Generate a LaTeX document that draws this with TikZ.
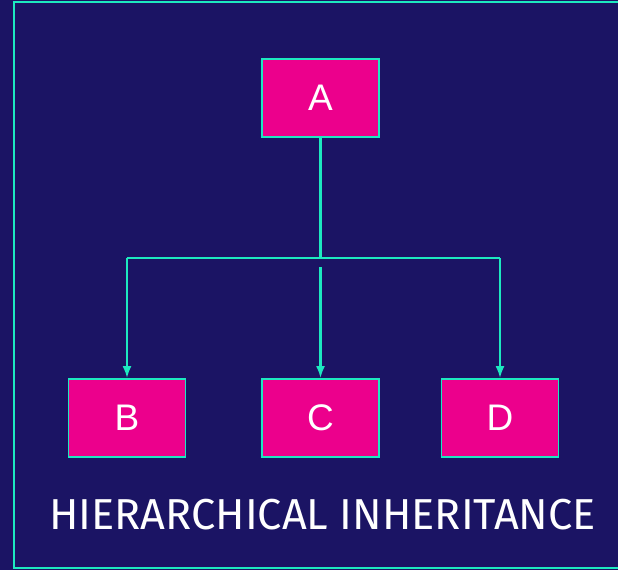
\documentclass[tikz,border=0pt]{standalone}
\usepackage{fontspec}
\setmainfont{Liberation Sans}
\newfontfamily\titlefont{Fira Sans}
\usetikzlibrary{arrows.meta}
\definecolor{navy}{HTML}{1B1464}
\definecolor{teal}{HTML}{1DE9C0}
\definecolor{magenta}{HTML}{EC008C}
\begin{document}
\begin{tikzpicture}[x=1pt,y=-1pt,
  classbox/.style={draw=teal,fill=magenta,line width=1.8pt,minimum width=117pt,minimum height=78pt,
    inner sep=0pt,text=white,font=\fontsize{37}{40}\selectfont},
  link/.style={draw=teal,line width=2.2pt},
  arrowlink/.style={link,-{Latex[length=12pt,width=9pt]}}]
  \fill[navy] (0,0) rectangle (618,570);
  \useasboundingbox (0,0) rectangle (618,570);
  \draw[teal,line width=2.2pt] (14,2) rectangle (622,568);
  \node[classbox] (A) at (320.5,98) {A};
  \node[classbox] (B) at (127,418) {B};
  \node[classbox] (C) at (320.5,418) {C};
  \node[classbox] (D) at (500,418) {D};
  \coordinate (J) at (320.5,258);
  \coordinate (JB) at (127,258);
  \coordinate (JD) at (500,258);
  \coordinate (CS) at (320.5,267);
  \draw[link] (A.south) -- (J);
  \draw[link] (JB) -- (JD);
  \draw[arrowlink] (JB) -- (B.north);
  \draw[arrowlink] (JD) -- (D.north);
  \draw[arrowlink] (CS) -- (C.north);
  \node[text=white,font=\titlefont\fontsize{43.3}{46}\selectfont,anchor=base] (T) at (322.5,529.5) {HIERARCHICAL INHERITANCE};
\end{tikzpicture}
\end{document}
